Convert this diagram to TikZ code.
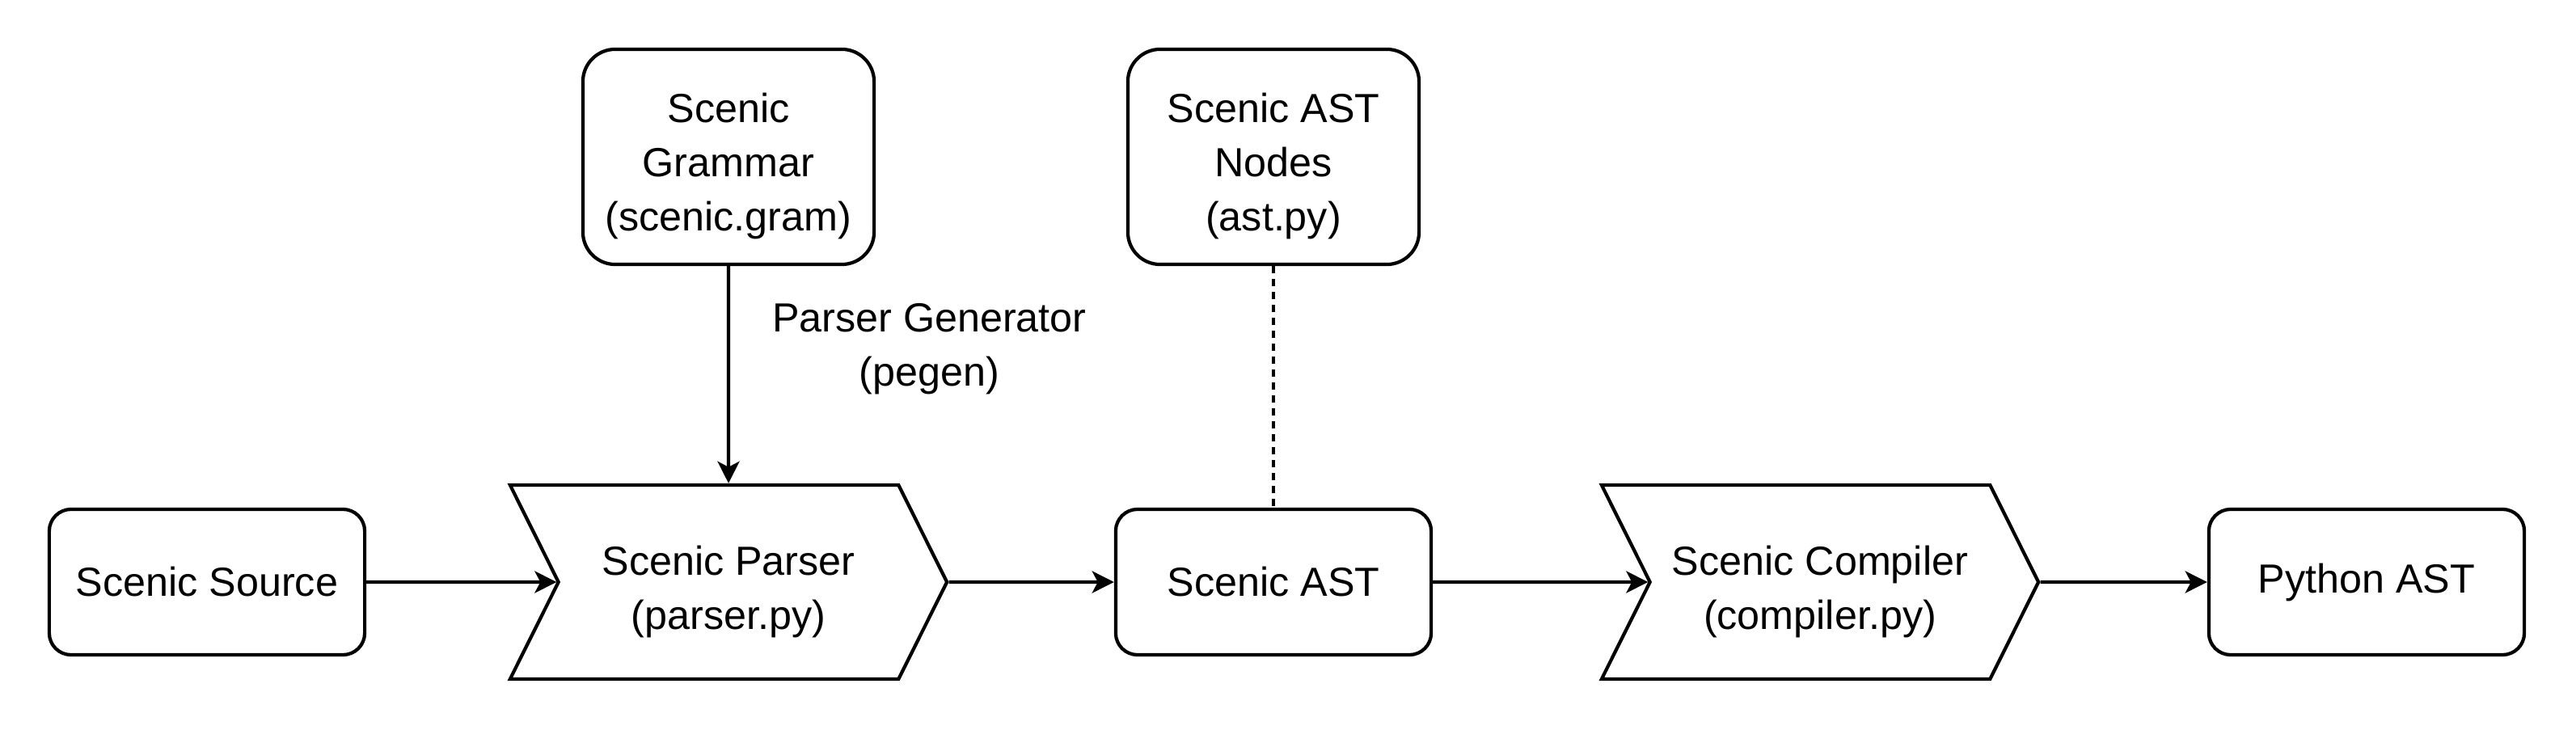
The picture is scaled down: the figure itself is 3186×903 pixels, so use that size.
\documentclass[tikz,border=0pt]{standalone}
\usepackage{fontspec}
\setmainfont{Liberation Sans}
\usetikzlibrary{shapes.symbols, arrows.meta, positioning}
\newcommand{\tallline}{\rule{0pt}{0.6cm}} % drops multi-line text a bit

\begin{document}
\begin{tikzpicture}[x=0.01cm, y=-0.01cm,
  every node/.style={font=\fontsize{14.3}{19}\selectfont, align=center, inner sep=0pt},
  box/.style={draw, line width=1.2pt, rounded corners=0.27cm, minimum width=3.9cm, minimum height=1.8cm},
  tallbox/.style={box, rounded corners=0.4cm, minimum width=3.6cm, minimum height=2.66cm},
  stage/.style={draw, line width=1.2pt, signal, signal from=west, signal to=east,
    signal pointer angle=127, minimum width=5.4cm, minimum height=2.4cm},
  arr/.style={-{Stealth[length=0.27cm, width=0.27cm, inset=0.07cm]}, line width=1.2pt},
  dep/.style={line width=1.2pt, dash pattern=on 0.09cm off 0.07cm}]
\useasboundingbox (0,0) rectangle (3186,903);

% pipeline row
\node[box] (src) at (256,720) {Scenic Source};
\node[stage] (parser) at (901,720) {\tallline Scenic Parser\\(parser.py)};
\node[box] (ast) at (1575,720) {Scenic AST};
\node[stage] (comp) at (2251,720) {\tallline Scenic Compiler\\(compiler.py)};
\node[box] (py) at (2927,720) {Python AST};

% inputs on top
\node[tallbox] (gram) at (901,194) {\tallline Scenic\\Grammar\\(scenic.gram)};
\node[tallbox] (astnodes) at (1575,194) {\tallline Scenic AST\\Nodes\\(ast.py)};

\draw[arr] (src) -- (parser);
\draw[arr] (parser) -- (ast);
\draw[arr] (ast) -- (comp);
\draw[arr] (comp) -- (py);
\draw[arr] (gram) -- node[pos=0.38, right=0.52cm] (pegen) {Parser Generator\\(pegen)} (parser);
\draw[dep] (astnodes) -- (ast);
\end{tikzpicture}
\end{document}
